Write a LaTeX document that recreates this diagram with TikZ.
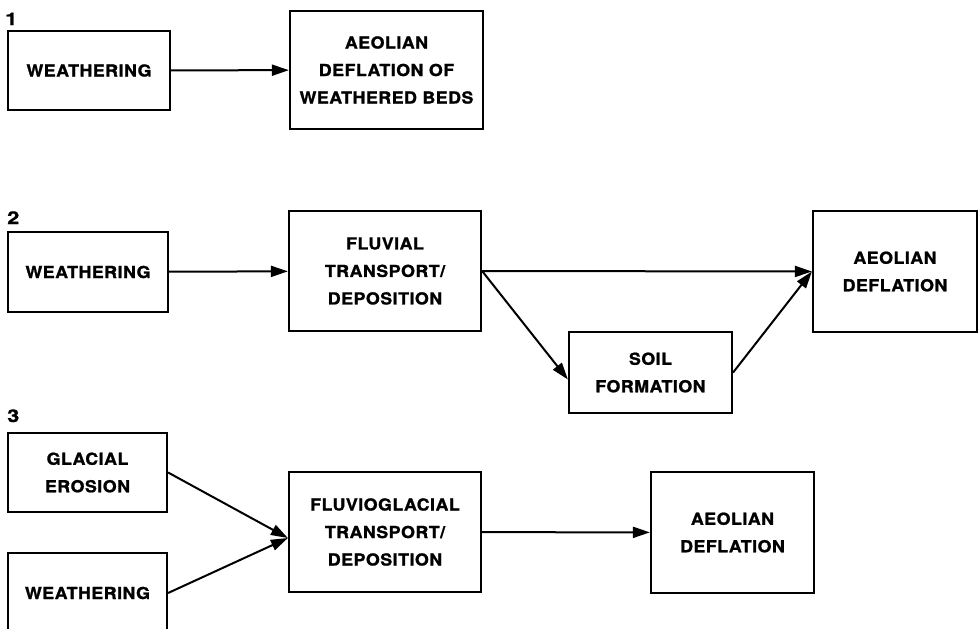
\documentclass[tikz,border=0pt]{standalone}
\usepackage{fontspec}
\setmainfont{TeX Gyre Heros}
\newfontfamily\boxfont{TeX Gyre Heros}[LetterSpace=3,FakeStretch=1.08,FakeBold=1.2]
\newfontfamily\numfont{TeX Gyre Heros}[FakeStretch=1.25,FakeBold=1]
\usetikzlibrary{arrows.meta}
\begin{document}
\begin{tikzpicture}[x=1pt,y=-1pt,
  box/.style={draw, line width=2.2pt, inner sep=0pt, align=center,
    font=\boxfont\bfseries\fontsize{16.5}{27.5}\selectfont},
  arr/.style={line width=2pt, -{Triangle[length=17pt,width=11pt]}},
  num/.style={font=\numfont\bfseries\fontsize{17.5}{17.5}\selectfont, anchor=base west, inner sep=0pt}]
\useasboundingbox (0,0) rectangle (978,629);
\fill[white] (0,0) rectangle (978,629);

% panel 1
\node[num] (n1) at (5,25) {1};
\node[box, minimum width=162pt, minimum height=79pt] (W1) at (89,70.5) {WEATHERING};
\node[box, minimum width=193pt, minimum height=118pt] (A1) at (386.5,70) {AEOLIAN\\DEFLATION OF\\WEATHERED BEDS};
\draw[arr] (W1) -- (A1);

% panel 2
\node[num] (n2) at (7,224) {2};
\node[box, minimum width=160pt, minimum height=80pt] (W2) at (88,272) {WEATHERING};
\node[box, minimum width=192pt, minimum height=120pt] (F2) at (385,271) {FLUVIAL\\TRANSPORT/\\DEPOSITION};
\node[box, minimum width=164pt, minimum height=121pt] (A2) at (895,271.5) {AEOLIAN\\DEFLATION};
\node[box, minimum width=163pt, minimum height=81pt] (S) at (650.5,372.5) {SOIL\\FORMATION};
\draw[arr] (W2) -- (F2);
\draw[arr] (F2.east) -- (A2.west);
\draw[arr] (F2.east) -- ([yshift=-7pt]S.west);
\draw[arr] (S.east) -- (A2.west);

% panel 3
\node[num] (n3) at (7,422) {3};
\node[box, minimum width=159pt, minimum height=79pt] (G) at (87.5,472.5) {GLACIAL\\EROSION};
\node[box, minimum width=159pt, minimum height=80pt] (W3) at (87.5,593) {WEATHERING};
\node[box, minimum width=192pt, minimum height=120pt] (FG) at (385,532) {FLUVIOGLACIAL\\TRANSPORT/\\DEPOSITION};
\node[box, minimum width=163pt, minimum height=121pt] (A3) at (732.5,532.5) {AEOLIAN\\DEFLATION};
\coordinate (FGin) at ([yshift=-6pt]FG.west);
\draw[arr] (G.east) -- (FGin);
\draw[arr] (W3.east) -- (FGin);
\draw[arr] (FG) -- (A3);
\end{tikzpicture}
\end{document}
